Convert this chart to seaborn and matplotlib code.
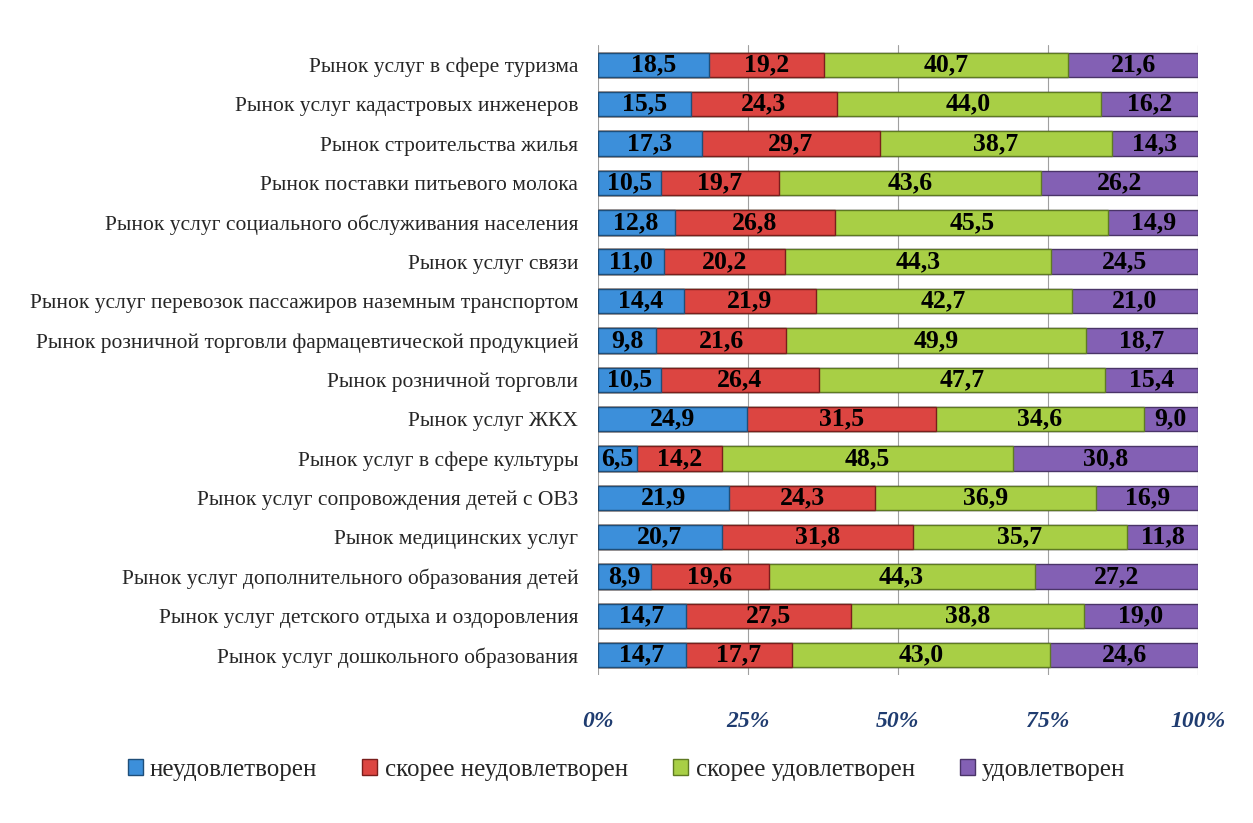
import matplotlib
matplotlib.use("Agg")
import matplotlib.pyplot as plt
import numpy as np
import pandas as pd
import seaborn as sns

# markets, top to bottom as in the chart
markets = [
    "Рынок услуг в сфере туризма",
    "Рынок услуг кадастровых инженеров",
    "Рынок строительства жилья",
    "Рынок поставки питьевого молока",
    "Рынок услуг социального обслуживания населения",
    "Рынок услуг связи",
    "Рынок услуг перевозок пассажиров наземным транспортом",
    "Рынок розничной торговли фармацевтической продукцией",
    "Рынок розничной торговли",
    "Рынок услуг ЖКХ",
    "Рынок услуг в сфере культуры",
    "Рынок услуг сопровождения детей с ОВЗ",
    "Рынок медицинских услуг",
    "Рынок услуг дополнительного образования детей",
    "Рынок услуг детского отдыха и оздоровления",
    "Рынок услуг дошкольного образования",
]

levels = ["неудовлетворен", "скорее неудовлетворен", "скорее удовлетворен", "удовлетворен"]

not_satisfied = [18.5, 15.5, 17.3, 10.5, 12.8, 11.0, 14.4, 9.8, 10.5, 24.9, 6.5, 21.9, 20.7, 8.9, 14.7, 14.7]
rather_not = [19.2, 24.3, 29.7, 19.7, 26.8, 20.2, 21.9, 21.6, 26.4, 31.5, 14.2, 24.3, 31.8, 19.6, 27.5, 17.7]
rather_yes = [40.7, 44.0, 38.7, 43.6, 45.5, 44.3, 42.7, 49.9, 47.7, 34.6, 48.5, 36.9, 35.7, 44.3, 38.8, 43.0]
satisfied = [21.6, 16.2, 14.3, 26.2, 14.9, 24.5, 21.0, 18.7, 15.4, 9.0, 30.8, 16.9, 11.8, 27.2, 19.0, 24.6]

colors = ["#3C8FDA", "#DC4541", "#A8CF45", "#8360B4"]
edges = ["#1F4E79", "#7A1E1C", "#5E7A22", "#4A3468"]

df = pd.DataFrame({"market": markets})
series = [not_satisfied, rather_not, rather_yes, satisfied]
for name, vals in zip(levels, series):
    df[name] = vals
cum = df[levels].cumsum(axis=1)

sns.set_style("white")
plt.rcParams["font.family"] = ["Liberation Serif", "DejaVu Serif"]

fig = plt.figure(figsize=(12.53, 8.23), dpi=100)
ax = fig.add_axes([0.477, 0.18, 0.479, 0.765])

# stacked bars: draw cumulative totals from the outermost layer inward
for i in range(len(levels) - 1, -1, -1):
    sns.barplot(x=cum[levels[i]], y=df["market"], color=colors[i], saturation=1, orient="h",
                width=0.62, edgecolor=edges[i], linewidth=1.0, ax=ax, zorder=2)

for i, name in enumerate(levels):
    starts = cum[name] - df[name]
    for j, v in enumerate(df[name]):
        ax.text(starts[j] + v / 2, j, f"{v:.1f}".replace(".", ","), ha="center", va="center",
                fontsize=18.5, fontweight="bold", color="black", zorder=3)

ax.set_xlim(0, 100)
ax.set_xticks([0, 25, 50, 75, 100])
ax.set_xticklabels(["0%", "25%", "50%", "75%", "100%"])
ax.xaxis.grid(True, color="#A0A0A0", linewidth=0.8, zorder=0)
ax.set_axisbelow(True)
for s in ax.spines.values():
    s.set_visible(False)
ax.tick_params(axis="x", length=0, pad=26, labelsize=17, labelcolor="#1F3C70")
for t in ax.get_xticklabels():
    t.set_fontweight("bold")
    t.set_fontstyle("italic")
ax.tick_params(axis="y", length=0, pad=14, labelsize=15.5)
ax.set_xlabel("")
ax.set_ylabel("")

handles = [plt.Rectangle((0, 0), 1, 1, facecolor=c, edgecolor=e) for c, e in zip(colors, edges)]
fig.legend(handles, levels, loc="center", bbox_to_anchor=(0.5, 0.065), ncol=4, frameon=False,
           fontsize=18, handlelength=0.6, handleheight=0.6, handletextpad=0.3, columnspacing=1.8)

fig.savefig("out.png", dpi=100)
